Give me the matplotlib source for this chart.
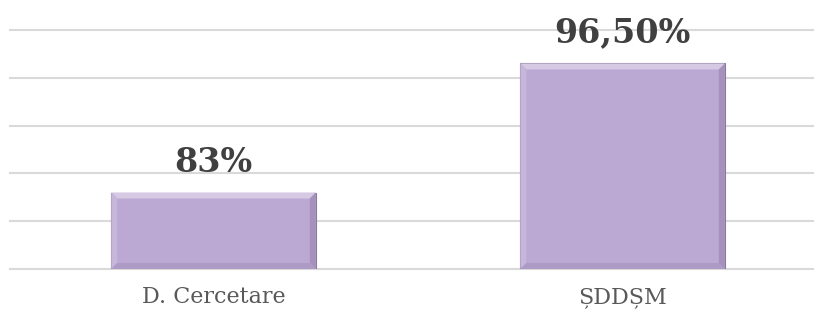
import matplotlib
matplotlib.use("Agg")
import matplotlib.pyplot as plt
from matplotlib.patches import Polygon

categories = ["D. Cercetare", "ȘDDȘM"]
values = [83.0, 96.5]
value_labels = ["83%", "96,50%"]
y_min, y_max, y_step = 75, 100, 5

plt.rcParams['font.family'] = ['DejaVu Serif']

fig = plt.figure(figsize=(8.14, 3.2), dpi=100)
ax = fig.add_axes([10/814, 51/320, (814-10)/814, (269-30)/320])

x = list(range(len(categories)))
face = "#BBA8D3"
bars = ax.bar(x, [v - y_min for v in values], bottom=y_min, width=0.5,
              color=face, edgecolor="#8C7A9E", linewidth=0.8, zorder=3)

ax.set_xlim(-0.4976, 1.468)
ax.set_ylim(y_min, y_max)
ax.set_yticks(range(y_min, y_max + 1, y_step))
ax.yaxis.grid(True, color="#D9D9D9", linewidth=1.5, zorder=0, clip_on=False)
for gl in ax.get_ygridlines():
    gl.set_clip_on(False)
ax.set_axisbelow(True)
ax.tick_params(left=False, bottom=False, labelleft=False)
for s in ax.spines.values():
    s.set_visible(False)
ax.set_xticks(x)
ax.set_xticklabels(categories, fontsize=16, color="#595959")
ax.tick_params(axis='x', pad=9)

# bevel effect derived from the bar geometry
fig.canvas.draw()
inv = ax.transData.inverted()
bw = 6  # pixels
for b in bars:
    bb = b.get_window_extent()
    x0, y0, x1, y1 = bb.x0, bb.y0, bb.x1, bb.y1
    pts = {
        "top": [(x0, y1), (x1, y1), (x1 - bw, y1 - bw), (x0 + bw, y1 - bw)],
        "left": [(x0, y0), (x0, y1), (x0 + bw, y1 - bw), (x0 + bw, y0 + bw)],
        "right": [(x1, y0), (x1, y1), (x1 - bw, y1 - bw), (x1 - bw, y0 + bw)],
        "bottom": [(x0, y0), (x1, y0), (x1 - bw, y0 + bw), (x0 + bw, y0 + bw)],
    }
    cols = {"top": "#D6C9E4", "left": "#C6B6DA", "right": "#A591BC", "bottom": "#AD9AC5"}
    for k, p in pts.items():
        dp = [tuple(inv.transform(pt)) for pt in p]
        ax.add_patch(Polygon(dp, closed=True, facecolor=cols[k], edgecolor="none", zorder=4))

for xi, v, lab in zip(x, values, value_labels):
    ax.annotate(lab, (xi, v), xytext=(0, 10), textcoords="offset points",
                ha="center", va="bottom", fontsize=24, fontweight="bold",
                color="#404040", zorder=5)

fig.savefig("out.png", dpi=100)
